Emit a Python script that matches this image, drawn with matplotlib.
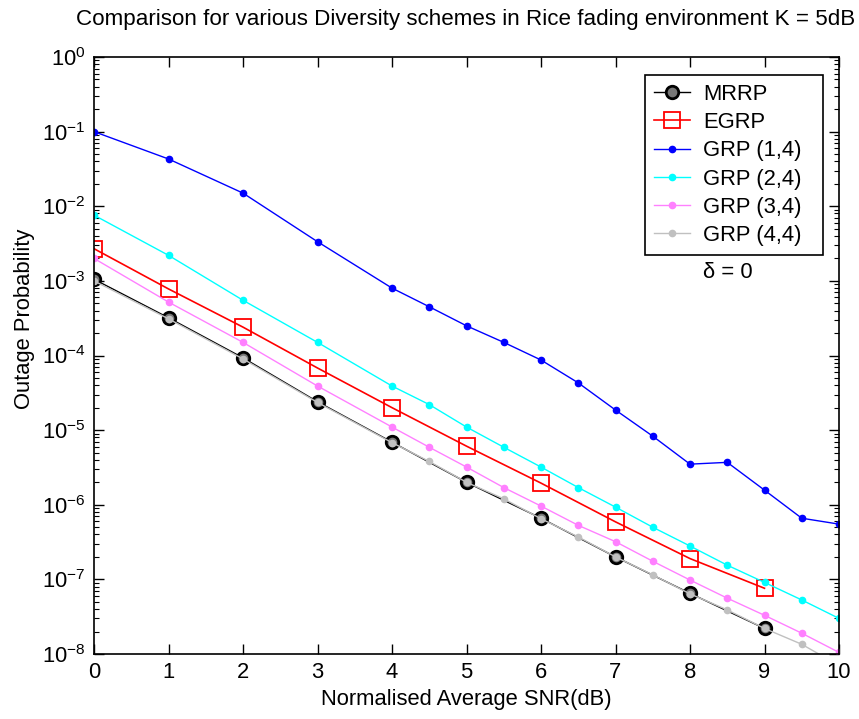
import matplotlib
matplotlib.use("Agg")
import matplotlib.pyplot as plt
from matplotlib.ticker import LogLocator, NullFormatter

plt.rcParams['font.family'] = ['Liberation Sans', 'DejaVu Sans']
plt.rcParams['mathtext.fontset'] = 'custom'
plt.rcParams['mathtext.rm'] = 'Liberation Sans'
plt.rcParams['mathtext.it'] = 'Liberation Sans'
plt.rcParams['mathtext.default'] = 'regular'

title = "Comparison for various Diversity schemes in Rice fading environment K = 5dB"
xlabel = "Normalised Average SNR(dB)"
ylabel = "Outage Probability"
annotation = "δ = 0"

x_int = [0, 1, 2, 3, 4, 5, 6, 7, 8, 9]
x_grp = [0, 1, 2, 3, 4, 4.5, 5, 5.5, 6, 6.5, 7, 7.5, 8, 8.5, 9, 9.5, 10]

mrrp = [1.05e-3, 3.2e-4, 9.3e-5, 2.4e-5, 6.9e-6, 2.0e-6, 6.6e-7, 2.0e-7, 6.5e-8, 2.2e-8]
egrp = [2.7e-3, 7.8e-4, 2.4e-4, 6.8e-5, 2.0e-5, 6.1e-6, 1.95e-6, 5.9e-7, 1.9e-7, 7.6e-8]
grp14 = [0.1, 4.3e-2, 1.5e-2, 3.35e-3, 8.0e-4, 4.5e-4, 2.5e-4, 1.5e-4, 8.7e-5, 4.3e-5,
         1.86e-5, 8.3e-6, 3.5e-6, 3.7e-6, 1.57e-6, 6.6e-7, 5.5e-7]
grp24 = [7.6e-3, 2.2e-3, 5.5e-4, 1.5e-4, 3.9e-5, 2.2e-5, 1.1e-5, 5.9e-6, 3.2e-6, 1.7e-6,
         9.3e-7, 5.0e-7, 2.8e-7, 1.55e-7, 9.1e-8, 5.3e-8, 3.0e-8]
grp34 = [2.0e-3, 5.2e-4, 1.5e-4, 3.9e-5, 1.1e-5, 5.9e-6, 3.2e-6, 1.7e-6, 9.6e-7, 5.3e-7,
         3.2e-7, 1.75e-7, 9.8e-8, 5.6e-8, 3.3e-8, 1.9e-8, 1.05e-8]
grp44 = [1.0e-3, 3.1e-4, 9.0e-5, 2.35e-5, 6.8e-6, 3.8e-6, 2.0e-6, 1.2e-6, 6.5e-7, 3.7e-7,
         2.0e-7, 1.15e-7, 6.4e-8, 3.9e-8, 2.2e-8, 1.35e-8, 7.0e-9]

labels = ["MRRP", "EGRP", "GRP (1,4)", "GRP (2,4)", "GRP (3,4)", "GRP (4,4)"]

FS = 15.8
W, H = 859, 719
AX_L, AX_R, AX_T, AX_B = 94, 839, 57, 654
fig = plt.figure(figsize=(W/100, H/100), dpi=100)
ax = fig.add_axes([AX_L/W, 1-AX_B/H, (AX_R-AX_L)/W, (AX_B-AX_T)/H])

ax.plot(x_int, mrrp, color='black', lw=1.0, marker='o', ms=9, mfc='#777777', mec='black', mew=2.0, label=labels[0])
ax.plot(x_int, egrp, color='#ff0000', lw=1.2, marker='s', ms=11, mfc='none', mec='#ff0000', mew=1.3, label=labels[1])
ax.plot(x_grp, grp14, color='#0000ff', lw=1.0, marker='o', ms=4.5, mfc='#0000ff', mec='#0000ff', label=labels[2])
ax.plot(x_grp, grp24, color='#00ffff', lw=1.0, marker='o', ms=4.5, mfc='#00ffff', mec='#00ffff', label=labels[3])
ax.plot(x_grp, grp34, color='#ff80ff', lw=1.0, marker='o', ms=4.5, mfc='#ff80ff', mec='#ff80ff', label=labels[4])
ax.plot(x_grp, grp44, color='#c0c0c0', lw=1.0, marker='o', ms=4.5, mfc='#c0c0c0', mec='#c0c0c0', label=labels[5])

ax.set_yscale('log')
ax.set_xlim(0, 10)
ax.set_ylim(1e-8, 1)
ax.set_xticks(range(0, 11))
ax.yaxis.set_major_locator(LogLocator(base=10, numticks=20))
ax.yaxis.set_minor_locator(LogLocator(base=10, subs=range(2, 10), numticks=100))
ax.yaxis.set_minor_formatter(NullFormatter())

ax.tick_params(which='both', direction='in', top=True, right=True, labelsize=FS, colors='black')
ax.tick_params(which='major', length=7, width=1.0, pad=6)
ax.tick_params(which='minor', length=3.5, width=0.8)
for s in ax.spines.values():
    s.set_linewidth(1.2)
    s.set_color('black')

aw, ah = AX_R - AX_L, AX_B - AX_T
leg_x0 = (645 - AX_L) / aw
leg_x1 = (823 - AX_L) / aw
leg_top = 1 - (75 - AX_T) / ah
leg = ax.legend(loc='upper left', bbox_to_anchor=(leg_x0, leg_top - 0.4, leg_x1 - leg_x0, 0.4),
                mode='expand', borderaxespad=0,
                fontsize=FS, frameon=True, fancybox=False, edgecolor='black', framealpha=1,
                handlelength=1.65, labelspacing=0.33, borderpad=0.4, handletextpad=0.6)
leg.get_frame().set_linewidth(1.2)

ax.text((703-AX_L)/aw, 1-(273-AX_T)/ah, annotation, transform=ax.transAxes, fontsize=FS,
        ha='left', va='center')

fig.text(466/W, 1-20/H, title, ha='center', va='center', fontsize=16.1)
fig.text(466/W, 1-700/H, xlabel, ha='center', va='center', fontsize=FS)
fig.text(25/W, 1-319/H, ylabel, ha='center', va='center', rotation=90, fontsize=FS)

fig.savefig('out.png', dpi=100)
